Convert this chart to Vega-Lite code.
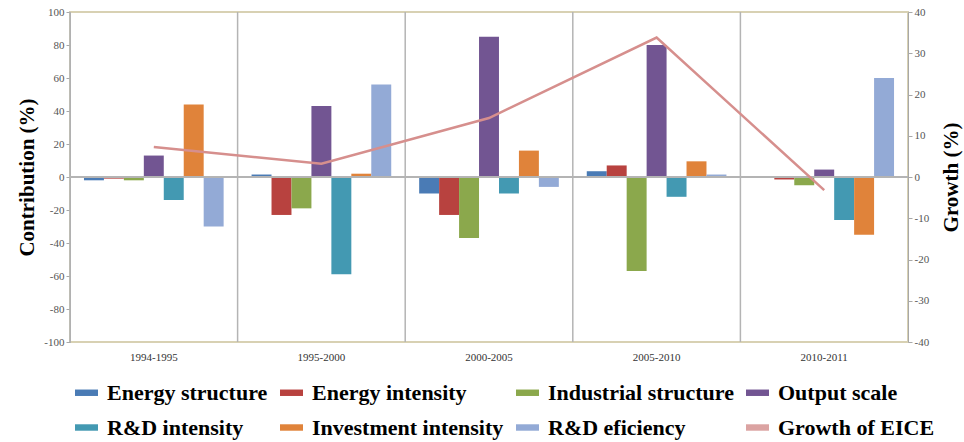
{
  "$schema": "https://vega.github.io/schema/vega-lite/v6.json",
  "width": 838,
  "height": 330,
  "autosize": "none",
  "padding": {"left": 70, "top": 12, "right": 56, "bottom": 100},
  "background": "white",
  "config": {
    "font": "Liberation Serif",
    "view": {"stroke": "#d8d1b3", "strokeWidth": 2},
    "style": {"guide-label": {"font": "Liberation Serif"}, "guide-title": {"font": "Liberation Serif"}},
    "axisX": {"ticks": false, "domain": false, "labelPadding": 9, "labelFontSize": 11, "labelColor": "#333333", "labelAngle": 0},
    "axisY": {"domainColor": "#a8a8a8", "tickColor": "#a8a8a8", "tickSize": 4, "labelFontSize": 11, "labelColor": "#555555", "titleFontSize": 21, "titleFontWeight": "bold", "titleColor": "#000000", "titlePadding": 6, "grid": false, "labelExpr": "'' + datum.value"}
  },
  "datasets": {
    "bars": [
      {"period": "1994-1995", "factor": "Energy structure", "value": -2},
      {"period": "1994-1995", "factor": "Energy intensity", "value": -1},
      {"period": "1994-1995", "factor": "Industrial structure", "value": -2},
      {"period": "1994-1995", "factor": "Output scale", "value": 13},
      {"period": "1994-1995", "factor": "R&D intensity", "value": -14},
      {"period": "1994-1995", "factor": "Investment intensity", "value": 44},
      {"period": "1994-1995", "factor": "R&D eficiency", "value": -30},
      {"period": "1995-2000", "factor": "Energy structure", "value": 1.5},
      {"period": "1995-2000", "factor": "Energy intensity", "value": -23},
      {"period": "1995-2000", "factor": "Industrial structure", "value": -19},
      {"period": "1995-2000", "factor": "Output scale", "value": 43},
      {"period": "1995-2000", "factor": "R&D intensity", "value": -59},
      {"period": "1995-2000", "factor": "Investment intensity", "value": 2},
      {"period": "1995-2000", "factor": "R&D eficiency", "value": 56},
      {"period": "2000-2005", "factor": "Energy structure", "value": -10},
      {"period": "2000-2005", "factor": "Energy intensity", "value": -23},
      {"period": "2000-2005", "factor": "Industrial structure", "value": -37},
      {"period": "2000-2005", "factor": "Output scale", "value": 85},
      {"period": "2000-2005", "factor": "R&D intensity", "value": -10},
      {"period": "2000-2005", "factor": "Investment intensity", "value": 16},
      {"period": "2000-2005", "factor": "R&D eficiency", "value": -6},
      {"period": "2005-2010", "factor": "Energy structure", "value": 3.5},
      {"period": "2005-2010", "factor": "Energy intensity", "value": 7},
      {"period": "2005-2010", "factor": "Industrial structure", "value": -57},
      {"period": "2005-2010", "factor": "Output scale", "value": 80},
      {"period": "2005-2010", "factor": "R&D intensity", "value": -12},
      {"period": "2005-2010", "factor": "Investment intensity", "value": 9.5},
      {"period": "2005-2010", "factor": "R&D eficiency", "value": 1.5},
      {"period": "2010-2011", "factor": "Energy structure", "value": 0},
      {"period": "2010-2011", "factor": "Energy intensity", "value": -1.5},
      {"period": "2010-2011", "factor": "Industrial structure", "value": -5},
      {"period": "2010-2011", "factor": "Output scale", "value": 4.5},
      {"period": "2010-2011", "factor": "R&D intensity", "value": -26},
      {"period": "2010-2011", "factor": "Investment intensity", "value": -35},
      {"period": "2010-2011", "factor": "R&D eficiency", "value": 60}
    ],
    "growth": [
      {"period": "1994-1995", "growth": 7.3},
      {"period": "1995-2000", "growth": 3.2},
      {"period": "2000-2005", "growth": 14.3},
      {"period": "2005-2010", "growth": 33.8},
      {"period": "2010-2011", "growth": -3.2}
    ]
  },
  "layer": [
    {
      "data": {"name": "growth"},
      "mark": {"type": "rule", "color": "#b4b4b4", "strokeWidth": 1.5},
      "encoding": {
        "x": {"field": "period", "type": "nominal", "bandPosition": 0, "title": null, "scale": {"paddingInner": 0, "paddingOuter": 0}}
      }
    },
    {
      "data": {"name": "bars"},
      "mark": {"type": "bar"},
      "encoding": {
        "x": {"field": "period", "type": "nominal", "title": null, "scale": {"paddingInner": 0, "paddingOuter": 0}},
        "xOffset": {"field": "factor", "type": "nominal", "sort": ["Energy structure", "Energy intensity", "Industrial structure", "Output scale", "R&D intensity", "Investment intensity", "R&D eficiency"], "scale": {"paddingInner": 0, "paddingOuter": 0.7}},
        "y": {"field": "value", "type": "quantitative", "title": "Contribution (%)", "scale": {"domain": [-100, 100], "nice": false}, "axis": {"values": [-100, -80, -60, -40, -20, 0, 20, 40, 60, 80, 100]}},
        "color": {
          "field": "factor",
          "type": "nominal",
          "scale": {
            "domain": ["Energy structure", "Energy intensity", "Industrial structure", "Output scale", "R&D intensity", "Investment intensity", "R&D eficiency", "Growth of EICE"],
            "range": ["#4a7bb5", "#b8423f", "#8ba84c", "#725592", "#4399b2", "#e0833a", "#93aad6", "#dba3a2"]
          },
          "legend": {
            "title": null,
            "orient": "none",
            "legendX": 5,
            "legendY": 369,
            "direction": "horizontal",
            "columns": 4,
            "symbolType": "M-1,-0.28H1V0.28H-1Z",
            "symbolSize": 529,
            "symbolStrokeWidth": 0,
            "labelFont": "Liberation Serif",
            "labelFontSize": 22,
            "labelFontWeight": "bold",
            "labelColor": "#000000",
            "labelOffset": 9,
            "labelLimit": 400,
            "columnPadding": 12,
            "rowPadding": 12,
            "encode": {"labels": {"update": {"font": {"value": "Liberation Serif"}, "fontWeight": {"value": "bold"}}}}
          }
        }
      }
    },
    {
      "data": {"name": "growth"},
      "mark": {"type": "rule", "color": "#b4b4b4", "strokeWidth": 1.5},
      "encoding": {
        "y": {"datum": 0, "type": "quantitative", "scale": {"domain": [-100, 100], "nice": false}, "axis": null}
      }
    },
    {
      "data": {"name": "growth"},
      "mark": {"type": "line", "color": "#d68f8d", "strokeWidth": 2.5},
      "encoding": {
        "x": {"field": "period", "type": "nominal", "title": null},
        "y": {"field": "growth", "type": "quantitative", "title": "Growth (%)", "scale": {"domain": [-40, 40], "nice": false}, "axis": {"orient": "right", "values": [-40, -30, -20, -10, 0, 10, 20, 30, 40], "titleAngle": 270, "titleX": 43, "titleY": 165, "titleAlign": "center", "titleBaseline": "middle"}}
      }
    }
  ],
  "resolve": {"scale": {"y": "independent"}, "axis": {"y": "independent"}}
}
